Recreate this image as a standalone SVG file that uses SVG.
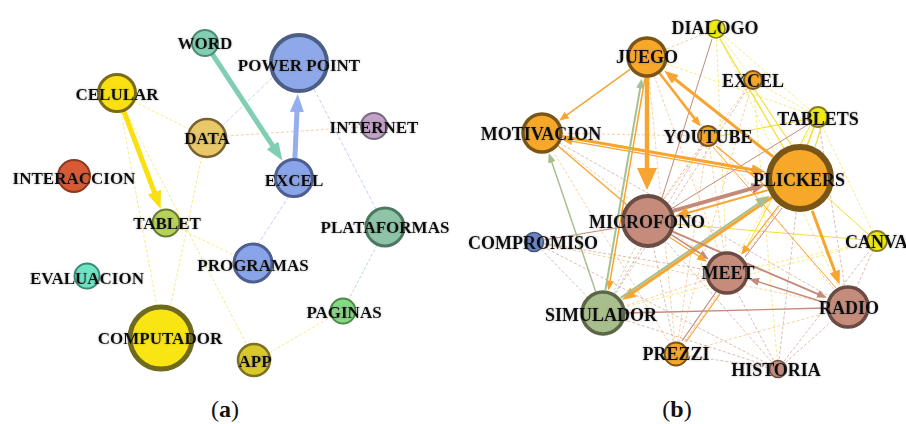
<svg xmlns="http://www.w3.org/2000/svg" width="906" height="424" viewBox="0 0 906 424">
<style>
text{font-family:"Liberation Serif","Times New Roman",serif;font-weight:bold;fill:#111;text-anchor:middle}
.la,.lb{filter:url(#halo)}
.la{font-size:17px}
.lb{font-size:18px}
.cap{font-size:24px;font-weight:normal}
line{fill:none}
.fy{stroke:#f1df4a;stroke-width:0.9;stroke-dasharray:3 2;opacity:0.75}
.fo{stroke:#f5b46a;stroke-width:0.9;stroke-dasharray:3 2;opacity:0.7}
.fb{stroke:#c89484;stroke-width:0.9;stroke-dasharray:3 2;opacity:0.7}
.fbl{stroke:#b4c4f2;stroke-width:1;stroke-dasharray:4 2;opacity:0.8}
.fg{stroke:#b6c89e;stroke-width:0.9;stroke-dasharray:3 2;opacity:0.8}
.ft{stroke:#9fd4c4;stroke-width:1;stroke-dasharray:3 2;opacity:0.8}
.o{stroke:#f7a530}
.br{stroke:#c48a78}
.g{stroke:#a8c090}
.y{stroke:#f2e02c}
</style>
<defs>
<filter id="halo" x="-10%" y="-30%" width="120%" height="160%">
<feGaussianBlur in="SourceAlpha" stdDeviation="0.9" result="b"/>
<feFlood flood-color="#555" flood-opacity="0.45"/>
<feComposite in2="b" operator="in" result="s"/>
<feMerge><feMergeNode in="s"/><feMergeNode in="SourceGraphic"/></feMerge>
</filter>
<marker id="bt" markerUnits="userSpaceOnUse" markerWidth="18" markerHeight="14" refX="1" refY="7" orient="auto"><path d="M0,0L18,7L0,14z" fill="#80cfb2"/></marker>
<marker id="bb" markerUnits="userSpaceOnUse" markerWidth="18" markerHeight="14" refX="1" refY="7" orient="auto"><path d="M0,0L18,7L0,14z" fill="#94aeee"/></marker>
<marker id="by" markerUnits="userSpaceOnUse" markerWidth="18" markerHeight="14" refX="1" refY="7" orient="auto"><path d="M0,0L18,7L0,14z" fill="#fbe011"/></marker>
<marker id="bo" markerUnits="userSpaceOnUse" markerWidth="22" markerHeight="20" refX="1" refY="10" orient="auto"><path d="M0,0L22,10L0,20z" fill="#f7a530"/></marker>
<marker id="mo" markerUnits="userSpaceOnUse" markerWidth="14" markerHeight="11" refX="1" refY="5.5" orient="auto"><path d="M0,0L14,5.5L0,11z" fill="#f7a530"/></marker>
<marker id="mb" markerUnits="userSpaceOnUse" markerWidth="14" markerHeight="11" refX="1" refY="5.5" orient="auto"><path d="M0,0L14,5.5L0,11z" fill="#c48a78"/></marker>
<marker id="mg" markerUnits="userSpaceOnUse" markerWidth="14" markerHeight="11" refX="1" refY="5.5" orient="auto"><path d="M0,0L14,5.5L0,11z" fill="#a8c090"/></marker>
<marker id="so" markerUnits="userSpaceOnUse" markerWidth="10" markerHeight="8" refX="1" refY="4" orient="auto"><path d="M0,0L10,4L0,8z" fill="#f7a530"/></marker>
<marker id="sb" markerUnits="userSpaceOnUse" markerWidth="10" markerHeight="8" refX="1" refY="4" orient="auto"><path d="M0,0L10,4L0,8z" fill="#c48a78"/></marker>
<marker id="sg" markerUnits="userSpaceOnUse" markerWidth="10" markerHeight="8" refX="1" refY="4" orient="auto"><path d="M0,0L10,4L0,8z" fill="#a8c090"/></marker>
</defs>
<rect width="906" height="424" fill="#fff"/>

<g id="connectors-a">
<line class="fy" x1="134" y1="101.5" x2="190" y2="129.5"/>
<line class="fy" x1="121" y1="112" x2="157" y2="307"/>
<line class="fy" x1="125" y1="110" x2="247" y2="345"/>
<line class="fy" x1="202" y1="156" x2="170" y2="308"/>
<line class="fbl" x1="222" y1="126" x2="273" y2="77"/>
<line class="fo" x1="226" y1="136" x2="361" y2="127"/>
<line class="fbl" x1="314" y1="89" x2="376" y2="209"/>
<line class="fbl" x1="289" y1="196" x2="258" y2="244"/>
<line class="fy" x1="180" y1="229" x2="234" y2="255"/>
<line class="ft" x1="377" y1="245" x2="349" y2="299"/>
<line class="fy" x1="269" y1="353" x2="331" y2="317"/>
<line x1="212.2" y1="53.9" x2="273.05" y2="146.3" stroke="#80cfb2" stroke-width="5" marker-end="url(#bt)"/>
<line x1="294.9" y1="158" x2="297" y2="111" stroke="#94aeee" stroke-width="5" marker-end="url(#bb)"/>
<line x1="123.7" y1="110.8" x2="154.7" y2="193.1" stroke="#fbe011" stroke-width="5" marker-end="url(#by)"/>
</g>

<g id="connectors-b">
<line class="fo" x1="716" y1="29" x2="647" y2="57"/>
<line class="fo" x1="647" y1="57" x2="676" y2="354"/>
<line class="fo" x1="647" y1="57" x2="727" y2="273"/>
<line class="fo" x1="647" y1="57" x2="848" y2="307"/>
<line class="fo" x1="542" y1="133" x2="708" y2="136"/>
<line class="fo" x1="542" y1="133" x2="727" y2="273"/>
<line class="fo" x1="542" y1="133" x2="676" y2="354"/>
<line class="fo" x1="708" y1="136" x2="676" y2="354"/>
<line class="fo" x1="708" y1="136" x2="727" y2="273"/>
<line class="fo" x1="676" y1="354" x2="800" y2="178"/>
<line class="fo" x1="676" y1="354" x2="848" y2="307"/>
<line class="fo" x1="603" y1="313" x2="727" y2="273"/>
<line class="fo" x1="534" y1="242" x2="848" y2="307"/>
<line class="fo" x1="542" y1="133" x2="800" y2="178"/>
<line class="fo" x1="753" y1="80" x2="648" y2="221"/>
<line class="fo" x1="753" y1="80" x2="676" y2="354"/>
<line class="fb" x1="534" y1="242" x2="603" y2="313"/>
<line class="fb" x1="534" y1="242" x2="727" y2="273"/>
<line class="fb" x1="534" y1="242" x2="778" y2="369"/>
<line class="fb" x1="778" y1="369" x2="848" y2="307"/>
<line class="fb" x1="778" y1="369" x2="603" y2="313"/>
<line class="fb" x1="778" y1="369" x2="648" y2="221"/>
<line class="fb" x1="778" y1="369" x2="727" y2="273"/>
<line class="fb" x1="778" y1="369" x2="877" y2="241"/>
<line class="fb" x1="778" y1="369" x2="800" y2="178"/>
<line class="fb" x1="648" y1="221" x2="676" y2="354"/>
<line class="fb" x1="848" y1="307" x2="877" y2="241"/>
<line class="fb" x1="848" y1="307" x2="818" y2="117"/>
<line class="fb" x1="708" y1="136" x2="648" y2="221"/>
<line class="fb" x1="753" y1="80" x2="603" y2="313"/>
<line class="fb" x1="708" y1="136" x2="603" y2="313"/>
<line class="fb" x1="542" y1="133" x2="848" y2="307"/>
<line class="fb" x1="676" y1="354" x2="778" y2="369"/>
<line class="fg" x1="603" y1="313" x2="648" y2="221"/>
<line class="fg" x1="603" y1="313" x2="800" y2="178"/>
<line class="fy" x1="716" y1="29" x2="818" y2="117"/>
<line class="fy" x1="716" y1="29" x2="753" y2="80"/>
<line class="fy" x1="716" y1="29" x2="727" y2="273"/>
<line class="fy" x1="753" y1="80" x2="778" y2="369"/>
<line class="fy" x1="753" y1="80" x2="818" y2="117"/>
<line class="fy" x1="647" y1="57" x2="818" y2="117"/>
<line class="fy" x1="877" y1="241" x2="603" y2="313"/>
<line class="fy" x1="877" y1="241" x2="727" y2="273"/>
<line class="fy" x1="818" y1="117" x2="877" y2="241"/>
<line class="fy" x1="818" y1="117" x2="727" y2="273"/>
<line class="fy" x1="716" y1="29" x2="848" y2="307"/>
<line class="y" x1="720" y1="39" x2="785" y2="150" stroke-width="1.3"/>
<line class="y" x1="755" y1="90" x2="792" y2="146" stroke-width="1.1"/>
<line class="y" x1="808" y1="119" x2="720" y2="136" stroke-width="1.2"/>
<line class="y" x1="814" y1="127" x2="807" y2="146" stroke-width="1.5"/>
<line class="y" x1="821" y1="128" x2="815" y2="147" stroke-width="1.2"/>
<line class="y" x1="674" y1="224" x2="866" y2="240" stroke-width="1"/>
<line class="y" x1="828" y1="198" x2="868" y2="234" stroke-width="1"/>
<line class="y" x1="810" y1="126" x2="743" y2="254" stroke-width="1"/>
<line class="br" x1="712" y1="39" x2="662" y2="198" stroke-width="1"/>
<line class="br" x1="809" y1="124" x2="671" y2="209" stroke-width="1"/>
<line class="br" x1="622" y1="227" x2="544" y2="240" stroke-width="1"/>
<line class="br" x1="625" y1="313" x2="826" y2="308" stroke-width="1.3"/>
<line class="br" x1="716" y1="292" x2="682" y2="341" stroke-width="1.2"/>
<line class="o" x1="720" y1="294" x2="686" y2="342" stroke-width="1.2"/>
<line class="br" x1="782" y1="208" x2="745" y2="257" stroke-width="1"/>
<line class="o" x1="558" y1="146" x2="627" y2="205" stroke-width="1.3"/>
<line class="o" x1="716" y1="146" x2="790" y2="206" stroke-width="1.3"/>
<line class="o" x1="713" y1="147" x2="836" y2="288" stroke-width="1"/>
<line class="o" x1="647" y1="77" x2="647" y2="169" stroke-width="4.5" marker-end="url(#bo)"/>
<line class="o" x1="773.3" y1="156.9" x2="674.5" y2="78.8" stroke-width="3" marker-end="url(#mo)"/>
<line class="o" x1="562.7" y1="136.6" x2="752.7" y2="169.8" stroke-width="3" marker-end="url(#mo)"/>
<line class="o" x1="765" y1="175" x2="571.1" y2="141.1" stroke-width="1.2" marker-end="url(#so)"/>
<line class="br" x1="673.2" y1="210.8" x2="753" y2="188.1" stroke-width="4" marker-end="url(#mb)"/>
<line class="o" x1="768.1" y1="190.1" x2="687.2" y2="213" stroke-width="2" marker-end="url(#mo)"/>
<line class="o" x1="772" y1="197.2" x2="632.7" y2="292.7" stroke-width="3" marker-end="url(#mo)"/>
<line class="g" x1="620.6" y1="297.9" x2="759" y2="203" stroke-width="2" marker-end="url(#mg)"/>
<line class="o" x1="812.2" y1="210.8" x2="835.1" y2="272.3" stroke-width="3" marker-end="url(#mo)"/>
<line class="o" x1="645" y1="78" x2="609.9" y2="281.7" stroke-width="1.5" marker-end="url(#so)"/>
<line class="g" x1="605.4" y1="290" x2="640.3" y2="87.3" stroke-width="2" marker-end="url(#sg)"/>
<line class="g" x1="595.9" y1="292.2" x2="551.6" y2="161.4" stroke-width="1.5" marker-end="url(#sg)"/>
<line class="o" x1="630" y1="69.3" x2="566.3" y2="115.4" stroke-width="1.5" marker-end="url(#so)"/>
<line class="o" x1="659.8" y1="73.6" x2="695.2" y2="119.4" stroke-width="2.5" marker-end="url(#so)"/>
<line class="br" x1="671.3" y1="234.6" x2="701.1" y2="254.2" stroke-width="1.5" marker-end="url(#sb)"/>
<line class="o" x1="669.7" y1="237.2" x2="699.5" y2="256.7" stroke-width="1.2" marker-end="url(#so)"/>
<line class="br" x1="672.8" y1="231.7" x2="818.6" y2="294.3" stroke-width="2" marker-end="url(#sb)"/>
<line class="br" x1="826" y1="303" x2="757.8" y2="281.6" stroke-width="1.5" marker-end="url(#sb)"/>
<line class="o" x1="778.7" y1="205.8" x2="746.5" y2="247.7" stroke-width="1.2" marker-end="url(#so)"/>
</g>

<g id="node-word"><circle cx="205" cy="43" r="13" fill="#80d0b4" stroke="#4e8a74" stroke-width="2"/><text class="la" x="205" y="49">WORD</text></g>
<g id="node-powerpoint"><circle cx="299" cy="63" r="28" fill="#8ea8ea" stroke="#4d5e85" stroke-width="4"/><text class="la" x="299" y="71">POWER POINT</text></g>
<g id="node-celular"><circle cx="117" cy="93" r="18.5" fill="#fbe011" stroke="#7a6a1c" stroke-width="3"/><text class="la" x="117" y="100">CELULAR</text></g>
<g id="node-data"><circle cx="207" cy="138" r="19" fill="#e9c86a" stroke="#7a6230" stroke-width="2.5"/><text class="la" x="207" y="144">DATA</text></g>
<g id="node-internet"><circle cx="374" cy="126" r="13" fill="#c4a2c8" stroke="#7a6a80" stroke-width="2"/><text class="la" x="374" y="133">INTERNET</text></g>
<g id="node-interaccion"><circle cx="74" cy="176" r="16" fill="#d85a34" stroke="#8a3a20" stroke-width="2"/><text class="la" x="74" y="184">INTERACCION</text></g>
<g id="node-excel-a"><circle cx="294" cy="178" r="18.5" fill="#8aa4ea" stroke="#4d5e90" stroke-width="3"/><text class="la" x="294" y="186">EXCEL</text></g>
<g id="node-tablet"><circle cx="166" cy="223" r="13.5" fill="#b6d25a" stroke="#6a7a30" stroke-width="2"/><text class="la" x="167" y="229">TABLET</text></g>
<g id="node-plataformas"><circle cx="385" cy="227" r="19" fill="#8ec4a8" stroke="#4c7860" stroke-width="3"/><text class="la" x="385" y="233">PLATAFORMAS</text></g>
<g id="node-programas"><circle cx="253" cy="263" r="19" fill="#8aa4ea" stroke="#4d5e90" stroke-width="3"/><text class="la" x="253" y="271">PROGRAMAS</text></g>
<g id="node-evaluacion"><circle cx="87" cy="276" r="12.5" fill="#6ee4c4" stroke="#3a8a76" stroke-width="2"/><text class="la" x="87" y="284">EVALUACION</text></g>
<g id="node-paginas"><circle cx="343" cy="311" r="12.5" fill="#86d884" stroke="#4a8a48" stroke-width="2"/><text class="la" x="344" y="318">PAGINAS</text></g>
<g id="node-computador"><circle cx="161" cy="338" r="31" fill="#fae514" stroke="#6e6a1e" stroke-width="5"/><text class="la" x="160" y="344">COMPUTADOR</text></g>
<g id="node-app"><circle cx="254" cy="360" r="16" fill="#d8c82c" stroke="#7a7020" stroke-width="2.5"/><text class="la" x="255" y="367">APP</text></g>

<g id="node-dialogo"><circle cx="716" cy="29" r="9" fill="#f0ec10" stroke="#8a8020" stroke-width="1.5"/><text class="lb" x="715" y="34">DIALOGO</text></g>
<g id="node-juego"><circle cx="647" cy="57" r="19" fill="#f8a828" stroke="#7a5518" stroke-width="3.5"/><text class="lb" x="647" y="63">JUEGO</text></g>
<g id="node-excel-b"><circle cx="753" cy="80" r="9" fill="#f8a828" stroke="#7a5518" stroke-width="2"/><text class="lb" x="753" y="87">EXCEL</text></g>
<g id="node-tablets"><circle cx="818" cy="117" r="10" fill="#f0ec10" stroke="#8a8020" stroke-width="2"/><text class="lb" x="818" y="125">TABLETS</text></g>
<g id="node-motivacion"><circle cx="542" cy="133" r="19" fill="#f8a828" stroke="#7a5518" stroke-width="3.5"/><text class="lb" x="541" y="140">MOTIVACION</text></g>
<g id="node-youtube"><circle cx="708" cy="136" r="10" fill="#f8a828" stroke="#7a5518" stroke-width="2"/><text class="lb" x="708" y="143">YOUTUBE</text></g>
<g id="node-plickers"><circle cx="800" cy="178" r="31" fill="#f8a828" stroke="#7a5518" stroke-width="6"/><text class="lb" x="799" y="186">PLICKERS</text></g>
<g id="node-microfono"><circle cx="648" cy="221" r="25" fill="#c58c7c" stroke="#6a4c44" stroke-width="4"/><text class="lb" x="647" y="228">MICROFONO</text></g>
<g id="node-compromiso"><circle cx="534" cy="242" r="9.5" fill="#6a86c8" stroke="#44557a" stroke-width="1.5"/><text class="lb" x="533" y="249">COMPROMISO</text></g>
<g id="node-canva"><circle cx="877" cy="241" r="10" fill="#f0ec10" stroke="#8a8020" stroke-width="1.8"/><text class="lb" x="845" y="248" style="text-anchor:start">CANVA</text></g>
<g id="node-meet"><circle cx="727" cy="273" r="20" fill="#c58c7c" stroke="#6a4c44" stroke-width="3.5"/><text class="lb" x="728" y="279">MEET</text></g>
<g id="node-radio"><circle cx="848" cy="307" r="20" fill="#c58c7c" stroke="#6a4c44" stroke-width="3.5"/><text class="lb" x="849" y="314">RADIO</text></g>
<g id="node-simulador"><circle cx="603" cy="313" r="21" fill="#a8bf8c" stroke="#5a6848" stroke-width="3.5"/><text class="lb" x="601" y="321">SIMULADOR</text></g>
<g id="node-prezzi"><circle cx="676" cy="354" r="11.5" fill="#f8a828" stroke="#7a5518" stroke-width="2"/><text class="lb" x="676" y="360">PREZZI</text></g>
<g id="node-historia"><circle cx="778" cy="369" r="8.5" fill="#c58c7c" stroke="#6a4c44" stroke-width="1.5"/><text class="lb" x="776" y="376">HISTORIA</text></g>

<text class="cap" x="225" y="417">(<tspan font-weight="bold">a</tspan>)</text>
<text class="cap" x="677" y="417">(<tspan font-weight="bold">b</tspan>)</text>
</svg>
